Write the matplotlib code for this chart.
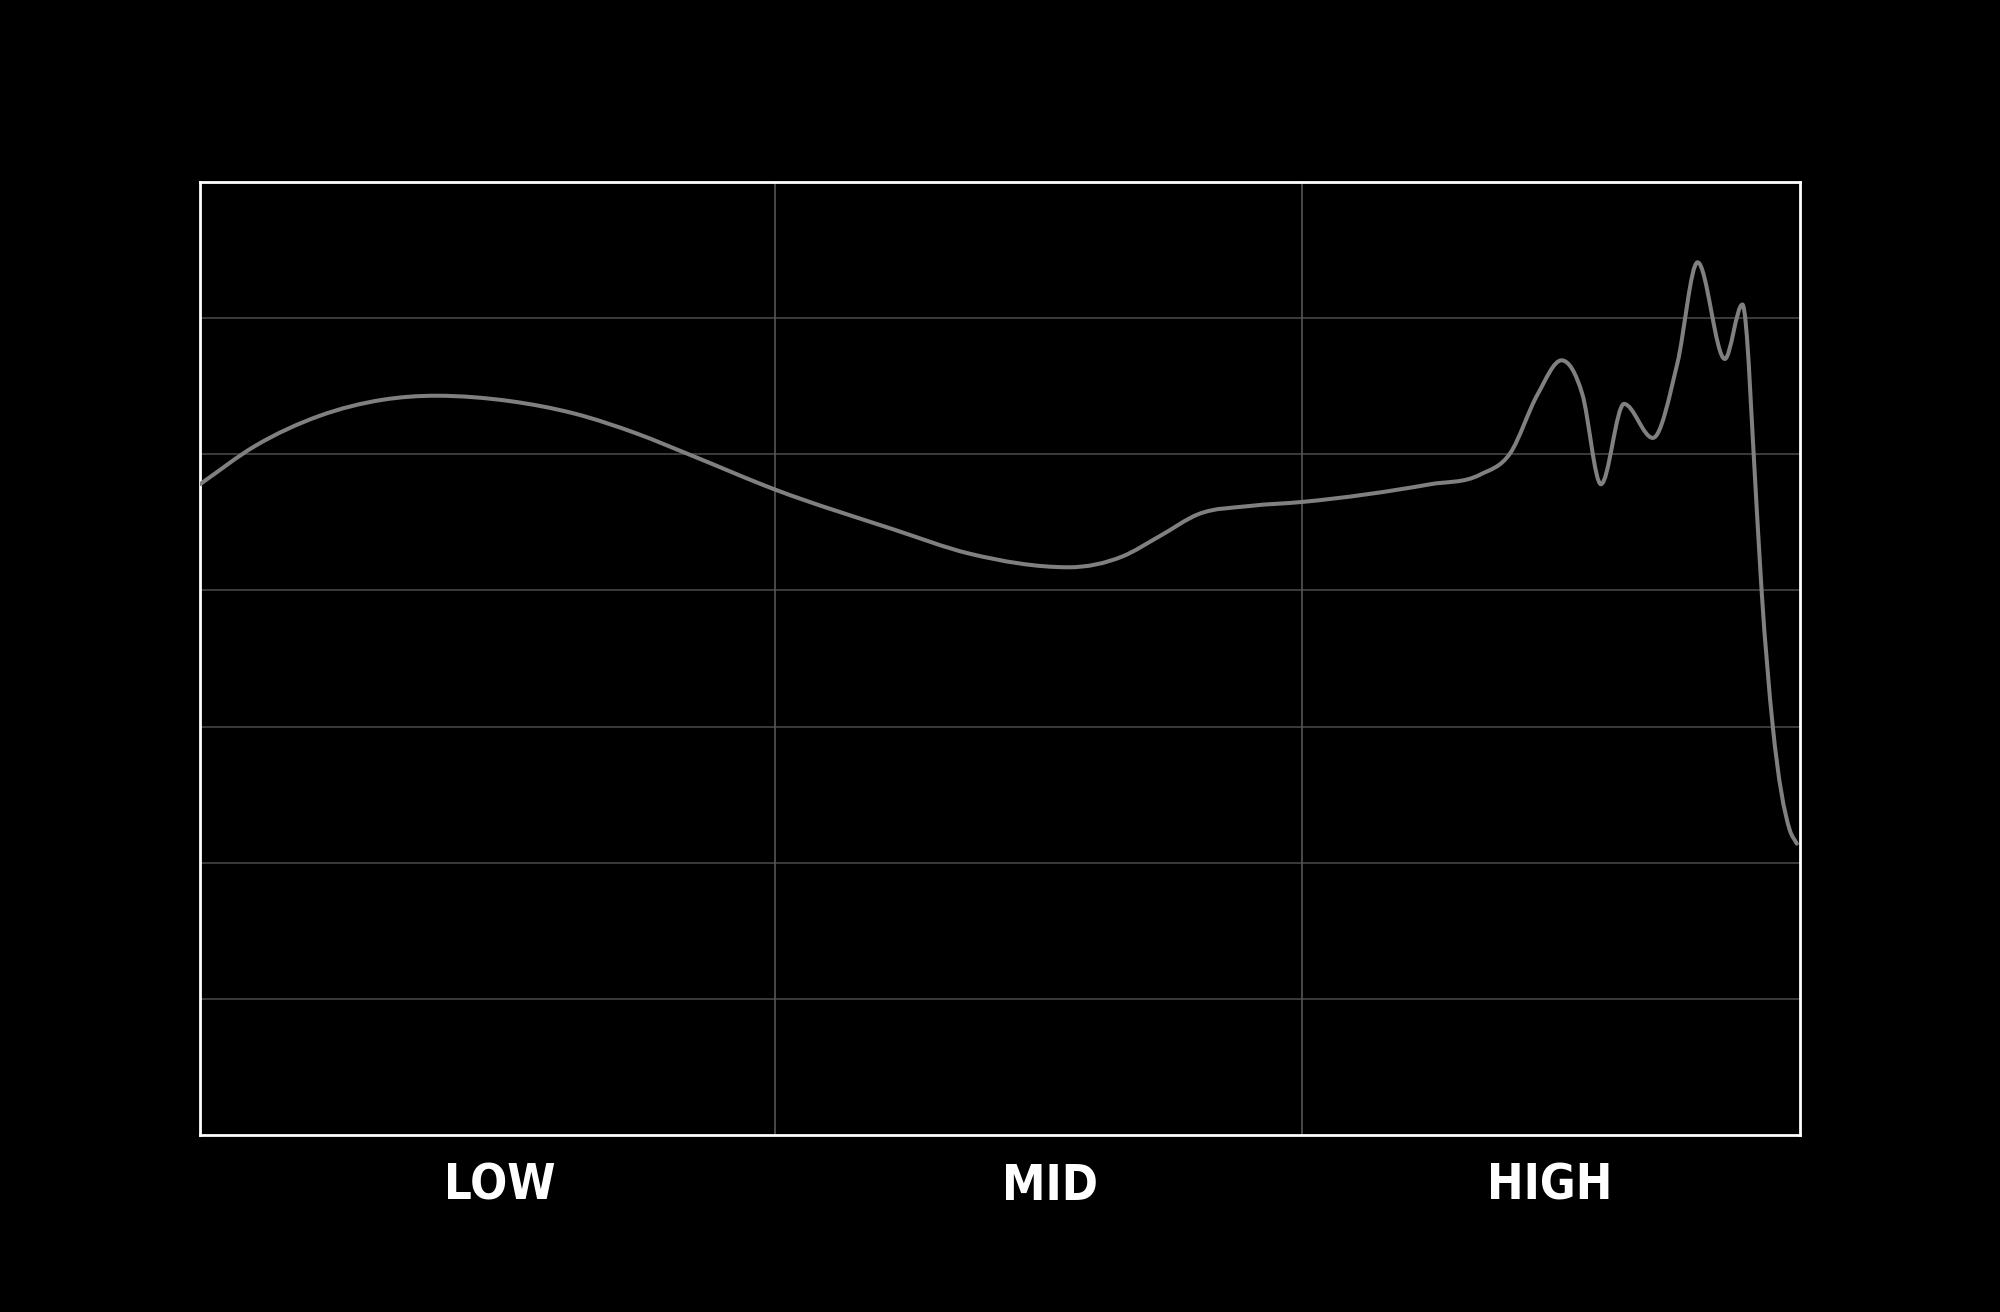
import matplotlib
matplotlib.use("Agg")
import matplotlib.pyplot as plt
import numpy as np
from matplotlib.path import Path
from matplotlib.patches import PathPatch

#===============================================================================
# frequency position (0 = left edge, 1 = right edge) and level in grid units
freq_pos = [0.0, 0.0343, 0.0742, 0.114, 0.1475, 0.194, 0.2337, 0.2735, 0.3054,
            0.3596, 0.433, 0.481, 0.543, 0.5766, 0.600, 0.624, 0.656, 0.689,
            0.769, 0.80, 0.819, 0.836, 0.851, 0.864, 0.8756, 0.890,
            0.908, 0.9234, 0.936, 0.953, 0.964, 0.973, 0.976, 0.983, 0.9936,
            0.998]
level = [4.78, 5.06, 5.28, 5.40, 5.43, 5.39, 5.30, 5.15, 5.00,
         4.74, 4.45, 4.27, 4.17, 4.25, 4.40, 4.56, 4.62, 4.65,
         4.78, 4.85, 5.01, 5.44, 5.69, 5.44, 4.78, 5.37,
         5.12, 5.67, 6.41, 5.70, 6.10, 4.59, 4.00, 3.00, 2.24,
         2.14]

band_labels = ["LOW", "MID", "HIGH"]
band_label_pos = [0.1875, 0.5315, 0.8437]
band_edges = [0.3596, 0.689]
level_grid = [1, 2, 3, 4, 5, 6]

#===============================================================================
def smooth_path(x, y):
    # cubic Hermite through the points, written as Bezier segments
    x = np.asarray(x, float)
    y = np.asarray(y, float)
    n = len(x)
    slopes = np.zeros(n)
    d = np.diff(y) / np.diff(x)
    slopes[0] = d[0]
    slopes[-1] = d[-1]
    for i in range(1, n - 1):
        h0 = x[i] - x[i - 1]
        h1 = x[i + 1] - x[i]
        slopes[i] = (d[i - 1] * h1 + d[i] * h0) / (h0 + h1)
        if d[i - 1] * d[i] <= 0:
            slopes[i] = 0.0
    verts = [(x[0], y[0])]
    codes = [Path.MOVETO]
    for i in range(n - 1):
        h = (x[i + 1] - x[i]) / 3.0
        verts += [(x[i] + h, y[i] + slopes[i] * h),
                  (x[i + 1] - h, y[i + 1] - slopes[i + 1] * h),
                  (x[i + 1], y[i + 1])]
        codes += [Path.CURVE4] * 3
    return Path(verts, codes)

#===============================================================================
def main():
    fig = plt.figure(figsize = (20, 13.12), dpi = 100, facecolor = "black")
    ax = fig.add_axes([0.1, 0.1349, 0.8, 0.7264])
    ax.set_facecolor("black")
    ax.set_xlim(0, 1)
    ax.set_ylim(0, 7)

    for g in level_grid:
        ax.axhline(g, color = "#454545", lw = 1.2, zorder = 1)
    for e in band_edges:
        ax.axvline(e, color = "#555555", lw = 1.2, zorder = 1)

    patch = PathPatch(smooth_path(freq_pos, level), facecolor = "none",
                      edgecolor = "#808080", lw = 2.9, capstyle = "round",
                      joinstyle = "round", zorder = 3)
    ax.add_patch(patch)

    for spine in ax.spines.values():
        spine.set_color("white")
        spine.set_linewidth(2.0)
    ax.set_xticks([])
    ax.set_yticks([])

    for label, pos in zip(band_labels, band_label_pos):
        ax.text(pos, -0.053, label, transform = ax.get_xaxis_transform(),
                ha = "center", va = "center", color = "white", fontsize = 35,
                fontweight = "bold", fontstretch = "condensed",
                family = ["Liberation Sans Narrow", "DejaVu Sans"])

    fig.savefig("out.png", facecolor = "black")

if __name__ == "__main__":
    main()
